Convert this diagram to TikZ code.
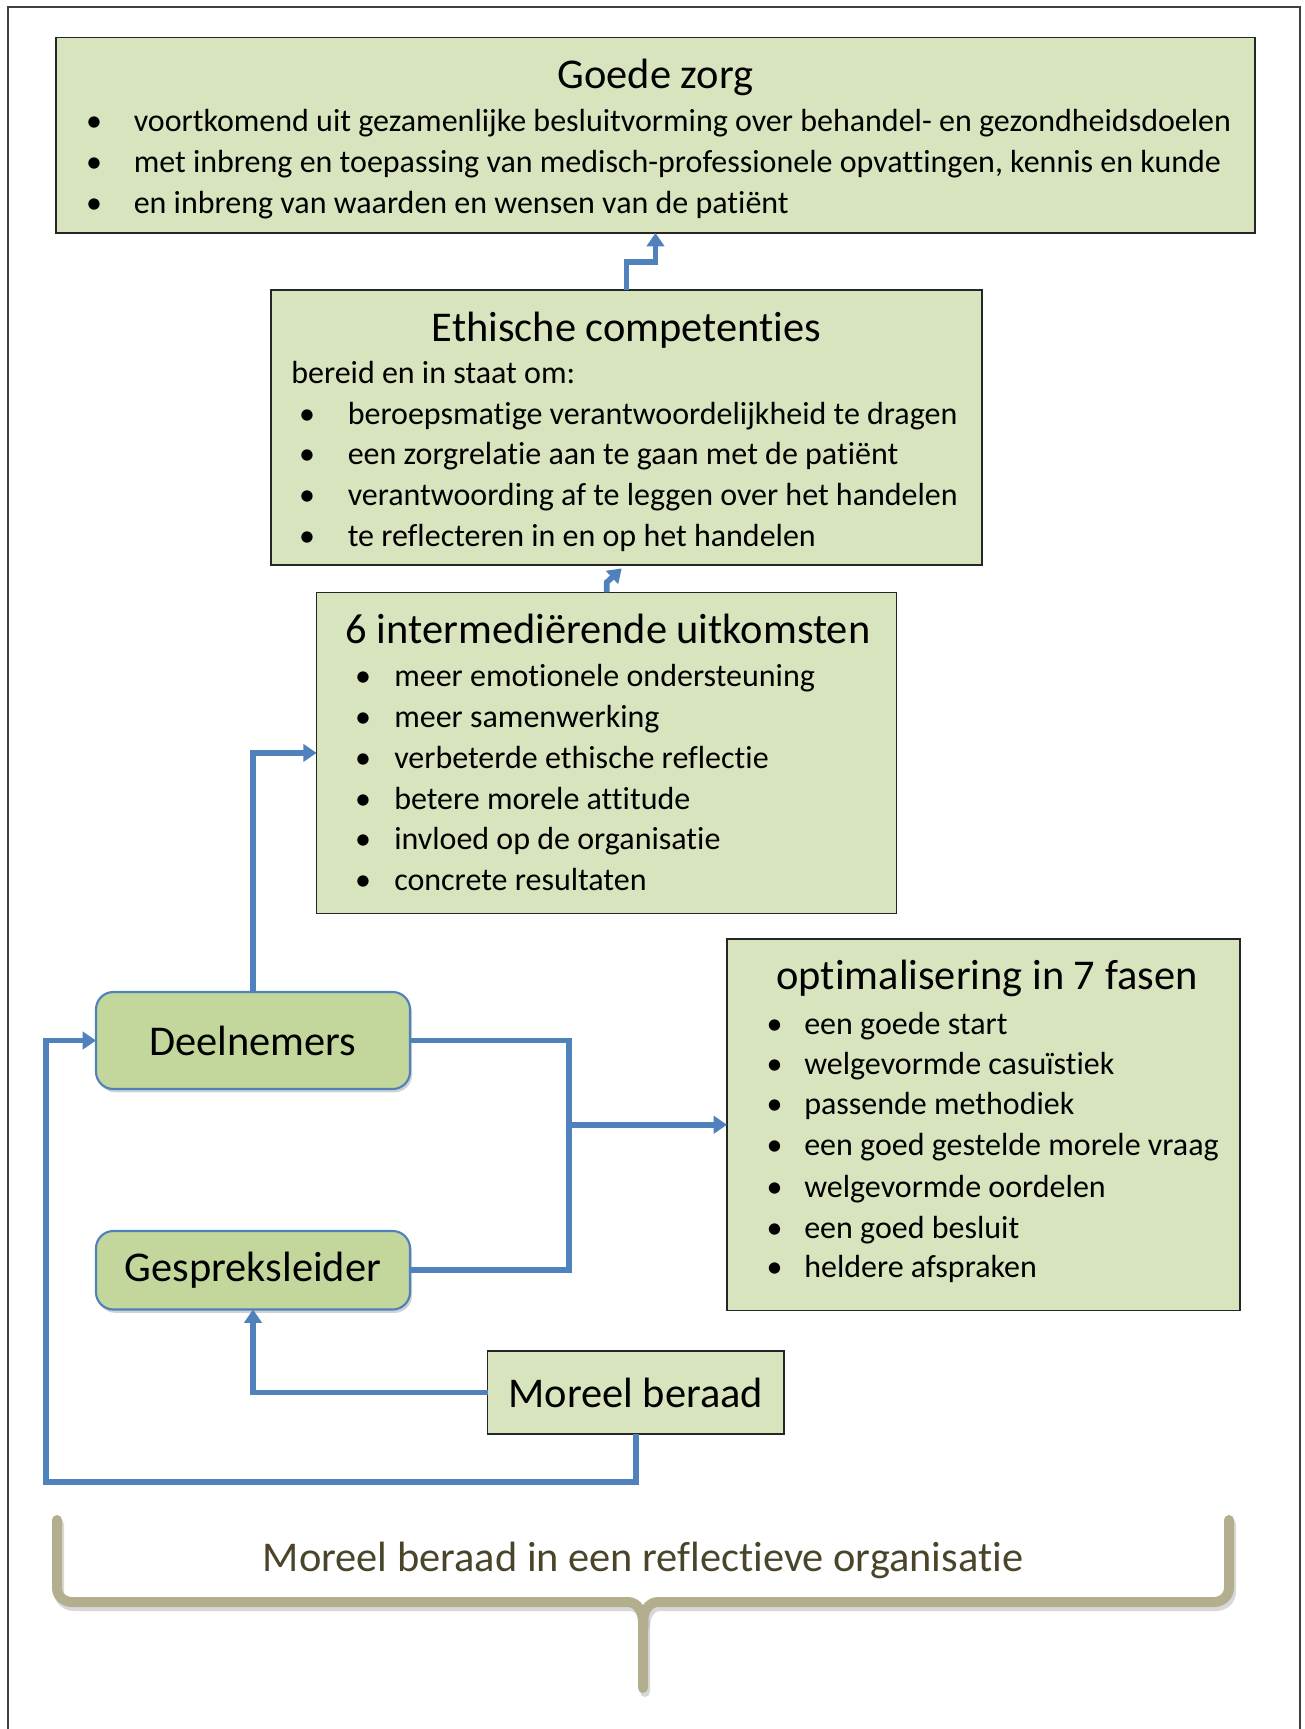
\documentclass[tikz,border=0pt]{standalone}
\usepackage{fontspec}
\setmainfont{Carlito}[RawFeature={-liga;-clig}]
\usetikzlibrary{fit,shadows,arrows.meta}
\definecolor{boxgreen}{HTML}{D7E4BD}
\definecolor{darkgreen}{HTML}{C3D69B}
\definecolor{connblue}{HTML}{4F81BD}
\definecolor{bracetan}{HTML}{B2AE8E}
\definecolor{olivetext}{HTML}{4A452A}
\begin{document}
\begin{tikzpicture}[x=0.75pt,y=-0.75pt,
  sqbox/.style={inner sep=0pt, outer sep=0pt, draw=black!85, line width=1pt, fill=boxgreen},
  rbox/.style={inner sep=0pt, outer sep=0pt, draw=connblue, line width=1.6pt, fill=darkgreen, rounded corners=13pt,
    drop shadow={shadow xshift=1.5pt, shadow yshift=-2.5pt, opacity=0.3, fill=black!60}},
  big/.style={inner sep=0pt, font=\fontsize{31.8}{36}\selectfont},
  ttl/.style={anchor=base, inner sep=0pt, font=\fontsize{31.8}{36}\selectfont},
  itm/.style={anchor=base west, inner sep=0pt, font=\fontsize{24}{29}\selectfont},
  bul/.style={anchor=base, inner sep=0pt, font=\fontsize{24}{29}\selectfont},
  link/.style={draw=connblue, line width=4.2pt},
  conn/.style={link, -{Triangle[width=13pt,length=10pt]}},
]
\useasboundingbox (0,0) rectangle (1305,1729);
% outer frame
\draw[black!75, line width=1pt] (8,1729) -- (8,7) -- (1300,7) -- (1300,1729);

% boxes
\node[sqbox, fit={(56,37.5) (1255,233)}] (goede) {};
\node[sqbox, fit={(271,290) (982,565)}] (ethisch) {};
\node[sqbox, fit={(316.6,592.4) (896.8,913.4)}] (inter) {};
\node[sqbox, fit={(727,939) (1240,1310.5)}] (optim) {};
\node[rbox, fit={(96,992) (410,1089)}] (deel) {};
\node[big] (deeltxt) at (deel.center) {Deelnemers};
\node[rbox, fit={(96,1231) (410,1309.5)}] (gesp) {};
\node[big] (gesptxt) at (gesp.center) {Gespreksleider};
\node[sqbox, fit={(487.6,1351) (784,1434)}] (moreel) {};
\node[big] (moreeltxt) at (moreel.center) {Moreel beraad};

% Goede zorg text
\node[ttl] (gt) at (655.5,88) {Goede zorg};
\node[bul] (gb1) at (94,131.5) {\textbullet};
\node[itm] (gi1) at (133.5,131.5) {voortkomend uit gezamenlijke besluitvorming over behandel- en gezondheidsdoelen};
\node[bul] (gb2) at (94,172.5) {\textbullet};
\node[itm] (gi2) at (133.5,172.5) {met inbreng en toepassing van medisch-professionele opvattingen, kennis en kunde};
\node[bul] (gb3) at (94,213) {\textbullet};
\node[itm] (gi3) at (133.5,213) {en inbreng van waarden en wensen van de patiënt};

% Ethische competenties text
\node[ttl] (et) at (626.5,341) {Ethische competenties};
\node[itm] (eh) at (291,383) {bereid en in staat om:};
\node[bul] (eb1) at (307,424) {\textbullet};
\node[itm] (ei1) at (347.5,424) {beroepsmatige verantwoordelijkheid te dragen};
\node[bul] (eb2) at (307,464.5) {\textbullet};
\node[itm] (ei2) at (347.5,464.5) {een zorgrelatie aan te gaan met de patiënt};
\node[bul] (eb3) at (307,505) {\textbullet};
\node[itm] (ei3) at (347.5,505) {verantwoording af te leggen over het handelen};
\node[bul] (eb4) at (307,546) {\textbullet};
\node[itm] (ei4) at (347.5,546) {te reflecteren in en op het handelen};

% 6 intermediërende uitkomsten text
\node[ttl] (it) at (608,643) {6 intermediërende uitkomsten};
\node[bul] (ib1) at (363,686) {\textbullet};
\node[itm] (ii1) at (394,686) {meer emotionele ondersteuning};
\node[bul] (ib2) at (363,727) {\textbullet};
\node[itm] (ii2) at (394,727) {meer samenwerking};
\node[bul] (ib3) at (363,768) {\textbullet};
\node[itm] (ii3) at (394,768) {verbeterde ethische reflectie};
\node[bul] (ib4) at (363,809) {\textbullet};
\node[itm] (ii4) at (394,809) {betere morele attitude};
\node[bul] (ib5) at (363,849.5) {\textbullet};
\node[itm] (ii5) at (394,849.5) {invloed op de organisatie};
\node[bul] (ib6) at (363,890) {\textbullet};
\node[itm] (ii6) at (394,890) {concrete resultaten};

% optimalisering text
\node[ttl] (ot) at (987,989) {optimalisering in 7 fasen};
\node[bul] (ob1) at (774.5,1034) {\textbullet};
\node[itm] (oi1) at (804,1034) {een goede start};
\node[bul] (ob2) at (774.5,1074.5) {\textbullet};
\node[itm] (oi2) at (804,1074.5) {welgevormde casuïstiek};
\node[bul] (ob3) at (774.5,1114) {\textbullet};
\node[itm] (oi3) at (804,1114) {passende methodiek};
\node[bul] (ob4) at (774.5,1155) {\textbullet};
\node[itm] (oi4) at (804,1155) {een goed gestelde morele vraag};
\node[bul] (ob5) at (774.5,1197) {\textbullet};
\node[itm] (oi5) at (804,1197) {welgevormde oordelen};
\node[bul] (ob6) at (774.5,1238) {\textbullet};
\node[itm] (oi6) at (804,1238) {een goed besluit};
\node[bul] (ob7) at (774.5,1277.5) {\textbullet};
\node[itm] (oi7) at (804,1277.5) {heldere afspraken};

% connectors
\draw[conn] (ethisch.north) -- ++(0,-28) -| (goede.south);
\draw[conn] (inter.north) -- ++(0,-10) -- ++(15,-14);
\draw[conn] (deel.north) |- (inter.west);
\coordinate (junc) at (569,1124.75);
\draw[link] (deel.east) -| (junc) |- (gesp.east);
\draw[conn] (junc) -- (optim.west);
\draw[conn] (moreel.west) -| (gesp.south);
\coordinate (loopc) at (46,1482);
\draw[conn] (moreel.south) |- (loopc) |- (deel.west);

% brace
\draw[black!30, line width=7.5pt, line cap=round, opacity=0.5, line join=round]
  (59,1524) -- (59,1592) to[out=-90,in=180] (74,1606) -- (630,1606) to[out=0,in=90] (645,1626) -- (645,1692);
\draw[black!30, line width=7.5pt, line cap=round, opacity=0.5, line join=round]
  (1231,1524) -- (1231,1592) to[out=-90,in=0] (1216,1606) -- (660,1606) to[out=180,in=90] (645,1626);
\draw[bracetan, line width=7.5pt, line cap=round, line join=round]
  (57,1520) -- (57,1588) to[out=-90,in=180] (72,1602) -- (628,1602) to[out=0,in=90] (643,1622) -- (643,1688);
\draw[bracetan, line width=7.5pt, line cap=round, line join=round]
  (1229,1520) -- (1229,1588) to[out=-90,in=0] (1214,1602) -- (658,1602) to[out=180,in=90] (643,1622);
\node[anchor=base, inner sep=0pt, text=olivetext, font=\fontsize{31.8}{36}\selectfont] (bracetext) at (643,1571) {Moreel beraad in een reflectieve organisatie};
\end{tikzpicture}
\end{document}
